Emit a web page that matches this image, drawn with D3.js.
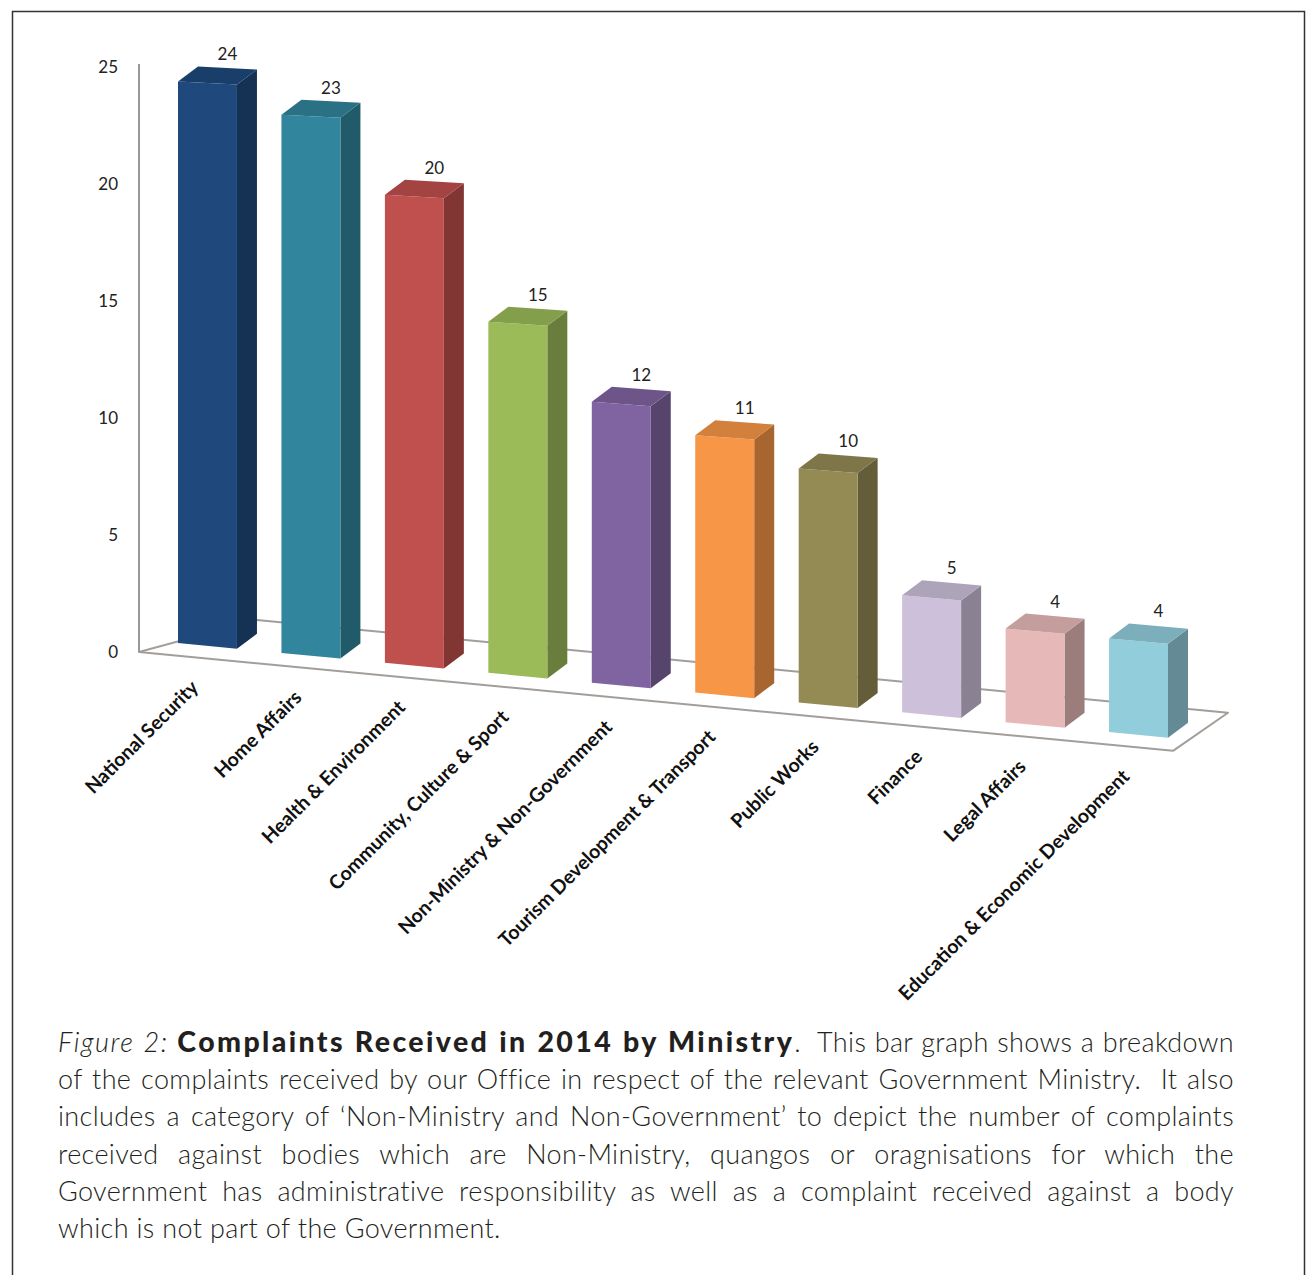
<!DOCTYPE html>
<html>
<head>
<meta charset="utf-8">
<script src="https://cdn.jsdelivr.net/npm/d3@7"></script>
<style>
  body { margin: 0; background: #fff; }
  svg { display: block; }
</style>
</head>
<body>
<div id="chart"></div>
<script>
// data
var categories = ["National Security", "Home Affairs", "Health & Environment",
    "Community, Culture & Sport", "Non-Ministry & Non-Government",
    "Tourism Development & Transport", "Public Works", "Finance",
    "Legal Affairs", "Education & Economic Development"];
var values = [24, 23, 20, 15, 12, 11, 10, 5, 4, 4];
var barColors = ["#1F497D", "#31859C", "#C0504D", "#9BBB59", "#8064A2",
    "#F79646", "#948A54", "#CCC0DA", "#E6B9B8", "#92CDDC"];
var yTicks = [0, 5, 10, 15, 20, 25];

// caption parts: text, style, width it takes in the figure (0 = natural)
var captionLines = [
    [["Figure 2:", "italic", 110], [" ", "normal", 0], ["Complaints Received in 2014 by Ministry", "bold", 613], [".  This bar graph shows a breakdown", "normal", 0]],
    [["of the complaints received by our Office in respect of the relevant Government Ministry.  It also", "normal", 0]],
    [["includes a category of \u2018Non-Ministry and Non-Government\u2019 to depict the number of complaints", "normal", 0]],
    [["received against bodies which are Non-Ministry, quangos or oragnisations for which the", "normal", 0]],
    [["Government has administrative responsibility as well as a complaint received against a body", "normal", 0]],
    [["which is not part of the Government.", "normal", 0]]
];

var W = 1306, H = 1275;
var svg = d3.select('#chart').append('svg')
    .attr("width", W)
    .attr("height", H);

// frame around the figure
svg.append("rect")
    .attr("x", 12.5).attr("y", 11.5)
    .attr("width", W - 14).attr("height", H + 20)
    .attr("fill", "none").attr("stroke", "#333").attr("stroke-width", 1.5);

// scales
var xScale = d3.scaleBand()
    .domain(categories)
    .range([178, 1168])
    .paddingInner(0.43)
    .paddingOuter(0);

var hScale = d3.scaleLinear()   // value -> bar height in px
    .domain([0, 25])
    .range([0, 585]);

// y of the bar base line (front face) at screen x, the floor is tilted
var floorY = d3.scaleLinear()
    .domain([177, 1108])
    .range([643, 732]);

var slope0 = (floorY(1108) - floorY(177)) / (1108 - 177);
var horizon = 1170;   // lines higher up tilt less (perspective)
function slopeAt(h) { return slope0 * (1 - h / horizon); }

var depth = [20, -15];   // top / side face offset

// floor
var axisX = xScale.range()[0] - 39;
var fl = [axisX, floorY(axisX) + 12.6];
var frX = xScale.range()[1] + 5;
var fr = [frX, floorY(frX) + 12.6];
var br = [frX + 55, floorY(frX + 55) - 30.7];
var blX = xScale(categories[0]) + xScale.bandwidth() + depth[0];
var bl = [blX, floorY(blX) - 30.7];

svg.append("path")
    .attr("d", "M" + [fl, fr, br, bl].join("L") + "Z")
    .attr("fill", "#fff")
    .attr("stroke", "#a39e99")
    .attr("stroke-width", 2)
    .attr("stroke-linejoin", "round");

// vertical axis
var yAxisScale = d3.scaleLinear()
    .domain([0, 25])
    .range([fl[1], fl[1] - hScale(25)]);

var yAxis = svg.append("g")
    .attr("transform", "translate(" + axisX + ",0)")
    .call(d3.axisLeft(yAxisScale).tickValues(yTicks).tickSize(0).tickPadding(21));
yAxis.select(".domain")
    .attr("d", "M0," + yAxisScale(0) + "V" + (yAxisScale(25) - 3))
    .attr("stroke", "#9a9896").attr("stroke-width", 2);
yAxis.selectAll("text")
    .attr("font-family", "Lato, 'Open Sans', sans-serif")
    .attr("font-size", 17)
    .attr("fill", "#222");

// bars
var bw = xScale.bandwidth();
var bars = svg.append("g").selectAll("g")
    .data(categories)
    .enter().append("g");

function faces(c, i) {
    var h = hScale(values[i]);
    var x0 = xScale(c), x1 = x0 + bw;
    var yb0 = floorY(x0), yb1 = yb0 + slope0 * bw;
    var yt0 = yb0 - h, yt1 = yt0 + slopeAt(h) * bw;
    return {
        front: [[x0, yb0], [x1, yb1], [x1, yt1], [x0, yt0]],
        side: [[x1, yb1], [x1 + depth[0], yb1 + depth[1]], [x1 + depth[0], yt1 + depth[1]], [x1, yt1]],
        top: [[x0, yt0], [x1, yt1], [x1 + depth[0], yt1 + depth[1]], [x0 + depth[0], yt0 + depth[1]]]
    };
}
function poly(p) { return "M" + p.join("L") + "Z"; }

bars.append("path")
    .attr("d", function(c, i) { return poly(faces(c, i).side); })
    .attr("fill", function(c, i) { return d3.color(barColors[i]).darker(1.1); });
bars.append("path")
    .attr("d", function(c, i) { return poly(faces(c, i).front); })
    .attr("fill", function(c, i) { return barColors[i]; });
bars.append("path")
    .attr("d", function(c, i) { return poly(faces(c, i).top); })
    .attr("fill", function(c, i) { return d3.color(barColors[i]).darker(0.45); });

// value labels
bars.append("text")
    .attr("x", function(c) { return xScale(c) + bw / 2 + depth[0]; })
    .attr("y", function(c, i) { return faces(c, i).top[3][1] - 6; })
    .attr("text-anchor", "middle")
    .attr("font-family", "Lato, 'Open Sans', sans-serif")
    .attr("font-size", 17)
    .attr("fill", "#222")
    .text(function(c, i) { return values[i]; });

// category labels
bars.append("text")
    .attr("transform", function(c) {
        var cx = xScale(c) + bw / 2 - 8;
        var cy = floorY(cx) + 12.6 + 31;
        return "translate(" + cx + "," + cy + ") rotate(-45)";
    })
    .attr("text-anchor", "end")
    .attr("font-family", "Lato, 'Open Sans', sans-serif")
    .attr("font-weight", "bold")
    .attr("font-size", 19.5)
    .attr("fill", "#111")
    .text(function(c) { return c; });

// caption, justified between left and right margins
var capLeft = 58, capRight = 1234, capTop = 1052, capStep = 37.2;
var capLS = 0.35;
captionLines.forEach(function(line, li) {
    var t = svg.append("text")
        .attr("x", capLeft)
        .attr("y", capTop + li * capStep)
        .attr("font-family", "Lato, 'Open Sans', sans-serif")
        .attr("font-weight", 300)
        .attr("font-size", 27)
        .attr("letter-spacing", capLS)
        .attr("fill", "#231f20")
        .style("white-space", "pre");
    line.forEach(function(part) {
        var s = t.append("tspan").text(part[0]);
        if (part[1] == "italic") s.attr("font-style", "italic");
        if (part[1] == "bold") s.attr("font-weight", 900).attr("font-size", 28.5);
        if (part[2] > 0) {
            // stretch the part a little so it covers the same width as in the figure
            var w = s.node().getComputedTextLength();
            s.attr("letter-spacing", capLS + (part[2] - w) / part[0].length);
        }
    });
    if (li < captionLines.length - 1) {
        var txt = line.map(function(p) { return p[0]; }).join("");
        var gaps = (txt.match(/ /g) || []).length;
        var natural = t.node().getComputedTextLength();
        t.style("word-spacing", ((capRight - capLeft - natural) / gaps) + "px");
    }
});
</script>
</body>
</html>
